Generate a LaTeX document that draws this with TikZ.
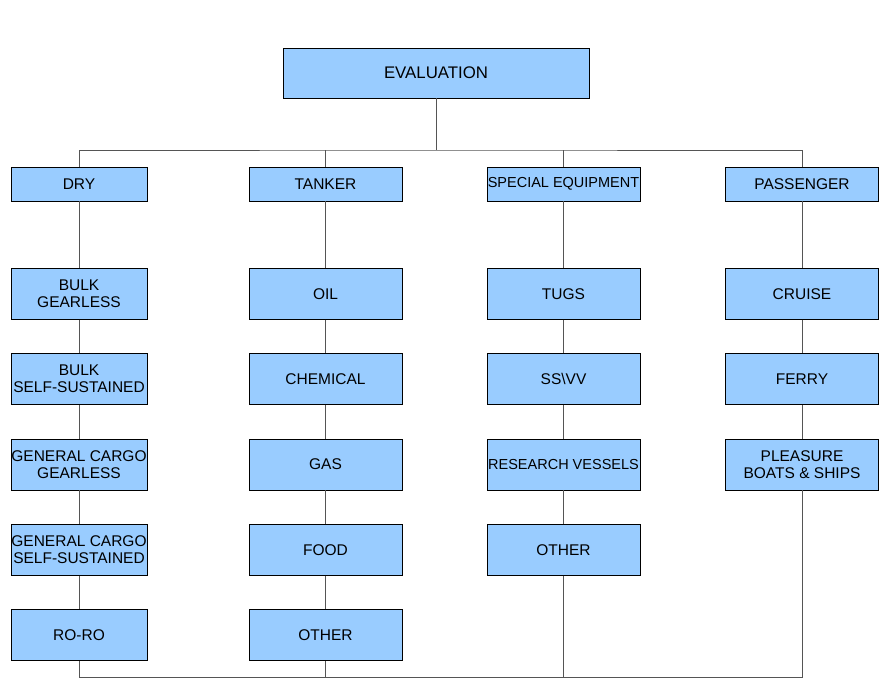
\documentclass[tikz,border=0pt]{standalone}
\usepackage{fontspec}
\setmainfont{Liberation Sans}
\usetikzlibrary{positioning}
\definecolor{boxblue}{HTML}{99CCFF}
\definecolor{linegray}{HTML}{555555}

\begin{document}
\begin{tikzpicture}
  [x=1pt,y=1pt,
   topN/.style={draw=black,fill=boxblue,line width=0.8pt,inner sep=0pt,
     minimum width=306pt,minimum height=50pt,font=\fontsize{16.8}{19}\selectfont},
   catN/.style={draw=black,fill=boxblue,line width=0.8pt,inner sep=0pt,align=center,
     minimum width=153pt,minimum height=34pt,font=\fontsize{15.5}{17}\selectfont},
   typeN/.style={catN,minimum height=51pt},
   tight/.style={font=\fontsize{14.5}{17}\selectfont},
   link/.style={draw=linegray,line width=0.8pt},
   node distance=33.5pt]

  \useasboundingbox (0,0) rectangle (896,-690);

  \node[topN] (eval) at (436,-73) {EVALUATION};

  % categories
  \node[catN,minimum width=136pt] (dry)  at (79,-184)    {DRY};
  \node[catN]                     (tank) at (325.5,-184) {TANKER};
  \node[catN,tight]               (spec) at (563.5,-184) {SPECIAL EQUIPMENT};
  \node[catN]                     (pass) at (802,-184)   {PASSENGER};

  % dry
  \node[typeN,minimum width=136pt] (bulkg) [below=66.5pt of dry] {BULK\\GEARLESS};
  \node[typeN,minimum width=136pt] (bulks) [below=of bulkg]      {BULK\\SELF-SUSTAINED};
  \node[typeN,minimum width=136pt] (gcg)   [below=of bulks]      {GENERAL CARGO\\GEARLESS};
  \node[typeN,minimum width=136pt] (gcs)   [below=of gcg]        {GENERAL CARGO\\SELF-SUSTAINED};
  \node[typeN,minimum width=136pt] (roro)  [below=of gcs]        {RO-RO};

  % tanker
  \node[typeN] (oil)    [below=66.5pt of tank] {OIL};
  \node[typeN] (chem)   [below=of oil]         {CHEMICAL};
  \node[typeN] (gas)    [below=of chem]        {GAS};
  \node[typeN] (food)   [below=of gas]         {FOOD};
  \node[typeN] (tother) [below=of food]        {OTHER};

  % special equipment
  \node[typeN]       (tugs)     [below=66.5pt of spec] {TUGS};
  \node[typeN]       (ssvv)     [below=of tugs]        {SS\textbackslash VV};
  \node[typeN,tight] (research) [below=of ssvv]        {RESEARCH VESSELS};
  \node[typeN]       (sother)   [below=of research]    {OTHER};

  % passenger
  \node[typeN] (cruise) [below=66.5pt of pass] {CRUISE};
  \node[typeN] (ferry)  [below=of cruise]      {FERRY};
  \node[typeN] (pleas)  [below=of ferry]       {PLEASURE\\BOATS \& SHIPS};

  \coordinate (topbus) at (436,-150);
  \coordinate (botbus) at (802,-677);

  \draw[link] (eval.south) -- (topbus);
  \draw[link] (dry.north) |- (topbus) -| (pass.north);
  \draw[link] (tank.north) -- (tank.north |- topbus);
  \draw[link] (spec.north) -- (spec.north |- topbus);

  \foreach \a/\b in {dry/bulkg,bulkg/bulks,bulks/gcg,gcg/gcs,gcs/roro,
                     tank/oil,oil/chem,chem/gas,gas/food,food/tother,
                     spec/tugs,tugs/ssvv,ssvv/research,research/sother,
                     pass/cruise,cruise/ferry,ferry/pleas}
    \draw[link] (\a.south) -- (\b.north);

  \draw[link] (roro.south) |- (botbus) -- (pleas.south);
  \draw[link] (tother.south) -- (tother.south |- botbus);
  \draw[link] (sother.south) -- (sother.south |- botbus);

\end{tikzpicture}
\end{document}
